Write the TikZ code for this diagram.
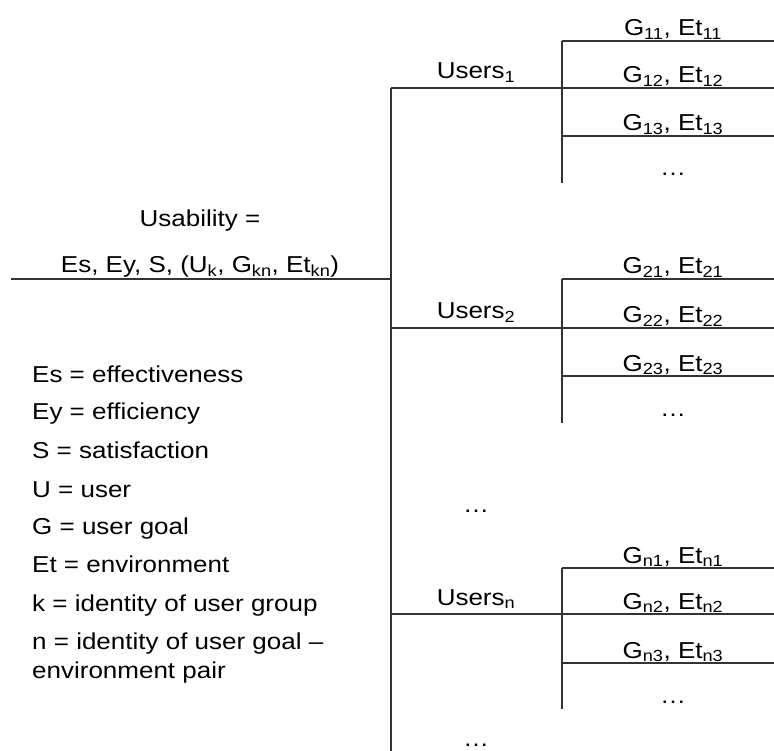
\documentclass[tikz,border=0pt]{standalone}
\usepackage{fontspec}
\setmainfont{Liberation Sans}[FakeStretch=1.13]
\begin{document}
\begin{tikzpicture}[x=1pt,y=-1pt,
  ln/.style={line width=1.3pt,draw=black!80},
  txt/.style={inner sep=0pt,anchor=base,font=\fontsize{23}{27}\selectfont},
  ltxt/.style={inner sep=0pt,anchor=base west,font=\fontsize{23}{27}\selectfont}]
\useasboundingbox (0,0) rectangle (774,751);
\newcommand{\sub}[1]{\textsubscript{#1}}
% main structure
\coordinate (L0) at (11,279);
\coordinate (VT) at (391,88);
\coordinate (VM) at (391,279);
\coordinate (VB) at (391,751);
\draw[ln] (L0) -- (VM);
\draw[ln] (VT) -- (VB);
% user branches
\coordinate (U1a) at (391,88);  \coordinate (U1b) at (562,88);
\coordinate (U2a) at (391,328); \coordinate (U2b) at (562,328);
\coordinate (Una) at (391,614); \coordinate (Unb) at (562,614);
\draw[ln] (U1a) -- (U1b);
\draw[ln] (U2a) -- (U2b);
\draw[ln] (Una) -- (Unb);
% group 1
\coordinate (g1t) at (562,41); \coordinate (g1b) at (562,183);
\coordinate (g1r1) at (774,41); \coordinate (g1r2) at (774,88);
\coordinate (g1l3) at (562,136); \coordinate (g1r3) at (774,136);
\draw[ln] (g1t) -- (g1b);
\draw[ln] (g1t) -- (g1r1);
\draw[ln] (U1b) -- (g1r2);
\draw[ln] (g1l3) -- (g1r3);
% group 2
\coordinate (g2t) at (562,279); \coordinate (g2b) at (562,423);
\coordinate (g2r1) at (774,279); \coordinate (g2r2) at (774,328);
\coordinate (g2l3) at (562,376); \coordinate (g2r3) at (774,376);
\draw[ln] (g2t) -- (g2b);
\draw[ln] (g2t) -- (g2r1);
\draw[ln] (U2b) -- (g2r2);
\draw[ln] (g2l3) -- (g2r3);
% group n
\coordinate (gnt) at (562,568); \coordinate (gnb) at (562,709);
\coordinate (gnr1) at (774,568); \coordinate (gnr2) at (774,614);
\coordinate (gnl3) at (562,663); \coordinate (gnr3) at (774,663);
\draw[ln] (gnt) -- (gnb);
\draw[ln] (gnt) -- (gnr1);
\draw[ln] (Unb) -- (gnr2);
\draw[ln] (gnl3) -- (gnr3);
% usability text
\node[txt] (usab) at (200,227) {Usability =};
\node[txt] (formula) at (200,273) {Es, Ey, S, (U\sub{k}, G\sub{kn}, Et\sub{kn})};
% users labels
\node[txt] (users1) at (476,79) {Users\sub{1}};
\node[txt] (users2) at (476,319) {Users\sub{2}};
\node[txt] (usersn) at (476,605) {Users\sub{n}};
\node[txt] (udots) at (476,512) {…};
\node[txt] (bdots) at (476,746) {…};
% goal labels
\node[txt] (g11) at (673,36) {G\sub{11}, Et\sub{11}};
\node[txt] (g12) at (673,83) {G\sub{12}, Et\sub{12}};
\node[txt] (g13) at (673,131) {G\sub{13}, Et\sub{13}};
\node[txt] (g1d) at (673,176) {…};
\node[txt] (g21) at (673,274) {G\sub{21}, Et\sub{21}};
\node[txt] (g22) at (673,323) {G\sub{22}, Et\sub{22}};
\node[txt] (g23) at (673,371) {G\sub{23}, Et\sub{23}};
\node[txt] (g2d) at (673,416) {…};
\node[txt] (gn1) at (673,563) {G\sub{n1}, Et\sub{n1}};
\node[txt] (gn2) at (673,609) {G\sub{n2}, Et\sub{n2}};
\node[txt] (gn3) at (673,658) {G\sub{n3}, Et\sub{n3}};
\node[txt] (gnd) at (673,703) {…};
% legend
\node[ltxt] (l1) at (32,382) {Es = effectiveness};
\node[ltxt] (l2) at (32,419) {Ey = efficiency};
\node[ltxt] (l3) at (32,458) {S = satisfaction};
\node[ltxt] (l4) at (32,497) {U = user};
\node[ltxt] (l5) at (32,534) {G = user goal};
\node[ltxt] (l6) at (32,572) {Et = environment};
\node[ltxt] (l7) at (32,611) {k = identity of user group};
\node[ltxt] (l8) at (32,649) {n = identity of user goal –};
\node[ltxt] (l9) at (32,678) {environment pair};
\end{tikzpicture}
\end{document}
